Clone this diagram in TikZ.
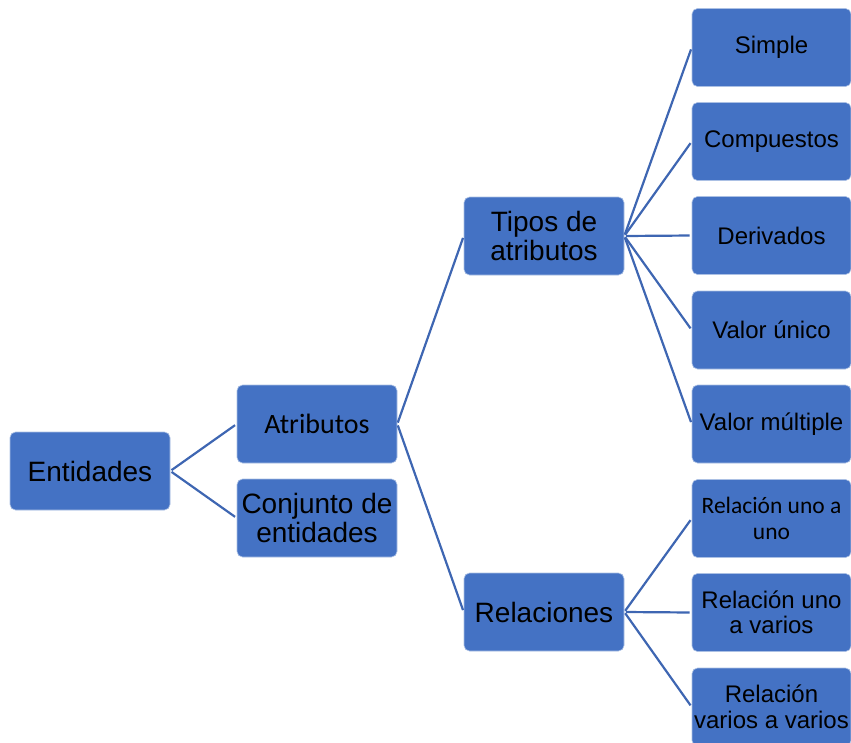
\documentclass[tikz,border=0pt]{standalone}
\usepackage{fontspec}
\setmainfont{Liberation Sans}
\newfontfamily\carlito{Carlito}
\definecolor{boxblue}{HTML}{4472C4}
\definecolor{linkblue}{RGB}{62,102,178}
\begin{document}
\begin{tikzpicture}[x=1pt,y=-1pt,
  card/.style={rectangle, rounded corners=5.5pt, fill=boxblue, draw=white!55!boxblue,
    line width=0.6pt, minimum width=160pt, minimum height=78pt, inner sep=2pt,
    align=center, text=black},
  big/.style={card, font=\fontsize{28}{29}\selectfont},
  small/.style={card, minimum width=159pt, font=\fontsize{24}{25.5}\selectfont},
  link/.style={draw=linkblue, line width=2.2pt, shorten <=1.5pt, shorten >=2pt}]
\useasboundingbox (0,0) rectangle (851,742);
\clip (0,0) rectangle (851,742);

% level 1 and 2
\node[big] (ent) at (90,471) {Entidades};
\node[big, font=\carlito\fontsize{28}{29}\selectfont] (atr) at (317,424) {Atributos};
\node[big] (con) at (317,518) {Conjunto de\\entidades};

% level 3
\node[big] (tip) at (544,236) {Tipos de\\atributos};
\node[big] (rel) at (544,612) {Relaciones};

% level 4: attribute types
\node[small] (sim) at (771.5,47.5) {Simple};
\node[small] (com) at (771.5,141.5) {Compuestos};
\node[small] (der) at (771.5,235.5) {Derivados};
\node[small] (vu) at (771.5,330) {Valor único};
\node[small] (vm) at (771.5,424) {Valor múltiple};

% level 4: relation kinds
\node[small, font=\carlito\fontsize{23.5}{25.5}\selectfont] (r1) at (771.5,518.5) {Relación uno a\\uno};
\node[small] (r2) at (771.5,612.5) {Relación uno\\a varios};
\node[small] (r3) at (771.5,707) {Relación\\varios a varios};

% connectors
\draw[link] (ent.east) -- (atr.west);
\draw[link] (ent.east) -- (con.west);
\draw[link] (atr.east) -- (tip.west);
\draw[link] (atr.east) -- (rel.west);
\foreach \n in {sim,com,der,vu,vm}
  \draw[link] (tip.east) -- (\n.west);
\foreach \n in {r1,r2,r3}
  \draw[link] (rel.east) -- (\n.west);
\end{tikzpicture}
\end{document}
